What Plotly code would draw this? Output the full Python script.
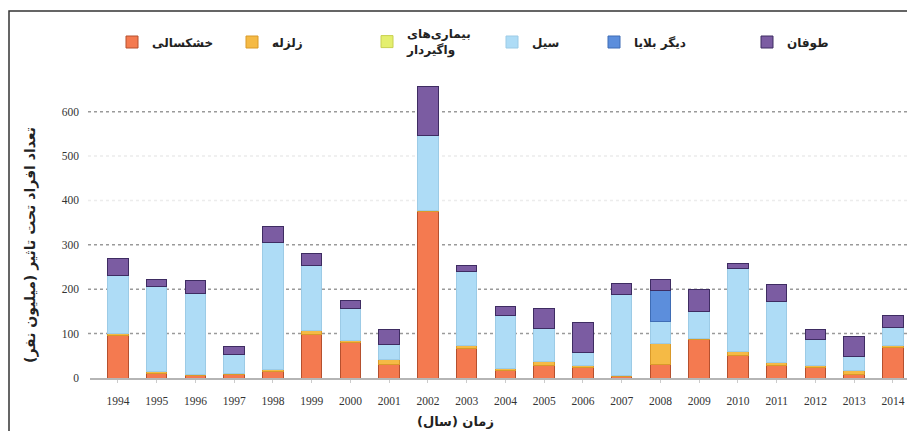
import plotly.graph_objects as go

years = [str(y) for y in range(1994, 2015)]

drought = [95, 10, 5, 7, 14, 99, 80, 31, 375, 67, 18, 29, 24, 4, 31, 86, 50, 29, 24, 9, 68]
quake = [5, 4, 4, 3, 5, 8, 5, 11, 2, 6, 4, 9, 5, 1, 47, 3, 9, 5, 4, 7, 5]
disease = [0, 0, 0, 0, 0, 0, 0, 0, 0, 0, 0, 0, 0, 0, 0, 0, 0, 0, 0, 0, 0]
flood = [130, 192, 182, 44, 286, 147, 72, 33, 170, 167, 118, 73, 29, 182, 49, 60, 188, 138, 59, 32, 41]
other = [0, 0, 0, 0, 0, 0, 0, 0, 0, 0, 0, 0, 0, 0, 69, 0, 0, 0, 0, 0, 0]
storm = [40, 17, 28, 17, 37, 27, 17, 34, 110, 14, 21, 46, 67, 25, 25, 50, 12, 38, 23, 45, 26]

names = ["خشکسالی", "زلزله", "بیماری‌های<br>واگیردار", "سیل", "دیگر بلایا", "طوفان"]
series = [drought, quake, disease, flood, other, storm]
colors = ["#F47A50", "#F5BA45", "#E4EF6E", "#AEDCF6", "#5C8EDC", "#7B5CA2"]
edges = ["#B5502E", "#D99A2A", "#C8D050", "#9CCBE6", "#3F6DB5", "#3E2C62"]

y_ticks = [0, 100, 200, 300, 400, 500, 600]
grid_strong = [100, 200, 300, 600]
grid_faint = [400, 500]

# page offset (body margin) compensation
O = 8
W, H = 915 - O, 431 - O
# target page-pixel positions of plot area
PL, PR, PT, PB = 90, 910, 85, 378
L, R, T, B = PL - O, W - (PR - O), PT - O, H - (PB - O)
pw, ph = PR - PL, PB - PT

def px_x(px):
    return (px - PL) / pw

def px_y(py):
    return (PB - py) / ph

fig = go.Figure()
for i, (nm, vals, c, e) in enumerate(zip(names, series, colors, edges)):
    lg = "legend" if i == 0 else f"legend{i+1}"
    fig.add_trace(go.Bar(
        x=years, y=vals, name=nm, legend=lg,
        marker=dict(color=c, line=dict(color=e, width=1)),
        width=0.53,
    ))

font_fa = "DejaVu Sans, Noto Sans, sans-serif"
legend_px = [112, 232, 367, 492, 594, 747]
layout_legends = {}
for i, lx in enumerate(legend_px):
    key = "legend" if i == 0 else f"legend{i+1}"
    layout_legends[key] = dict(
        x=px_x(lx), y=px_y(42), xref="paper", yref="paper",
        xanchor="left", yanchor="middle", orientation="h",
        bgcolor="rgba(0,0,0,0)", font=dict(family=font_fa, size=12, color="#222", weight="bold"),
        valign="middle",
    )

shapes = []
for g in grid_strong:
    shapes.append(dict(type="line", xref="paper", yref="y", x0=px_x(88), x1=px_x(908), y0=g, y1=g,
                       line=dict(color="#9a9a9a", width=1.5, dash="dot"), layer="below"))
for g in grid_faint:
    shapes.append(dict(type="line", xref="paper", yref="y", x0=px_x(88), x1=px_x(908), y0=g, y1=g,
                       line=dict(color="#ececec", width=1.5, dash="dot"), layer="below"))
shapes.append(dict(type="rect", xref="paper", yref="paper", x0=px_x(9), x1=px_x(912), y0=px_y(440), y1=px_y(11),
                   line=dict(color="#333", width=1.5), fillcolor="rgba(0,0,0,0)"))

fig.update_layout(
    width=W, height=H, barmode="stack",
    margin=dict(l=L, r=R, t=T, b=B),
    paper_bgcolor="white", plot_bgcolor="white",
    showlegend=True,
    shapes=shapes,
    **layout_legends,
    xaxis=dict(range=[-0.72, 20.44], showgrid=False, showline=True, linecolor="#b5b5b5", linewidth=2,
               ticks="outside", ticklen=3, tickcolor="#cccccc", ticklabelstandoff=8,
               tickfont=dict(family="Liberation Serif, serif", size=11.5, color="#333")),
    yaxis=dict(range=[0, 660], tickvals=y_ticks, showgrid=False, zeroline=False, showline=False,
               ticklabelstandoff=10,
               tickfont=dict(family="Liberation Serif, serif", size=11.5, color="#333")),
    annotations=[
        dict(text="<b>تعداد افراد تحت تاثیر (میلیون نفر)</b>", xref="paper", yref="paper",
             x=px_x(30), y=px_y(245), textangle=-90, showarrow=False,
             xanchor="center", yanchor="middle",
             font=dict(family=font_fa, size=14, color="#222")),
        dict(text="<b>زمان (سال)</b>", xref="paper", yref="paper",
             x=px_x(455), y=px_y(421), showarrow=False,
             xanchor="center", yanchor="middle",
             font=dict(family=font_fa, size=13, color="#222")),
    ],
)

fig.write_html("out.html")
